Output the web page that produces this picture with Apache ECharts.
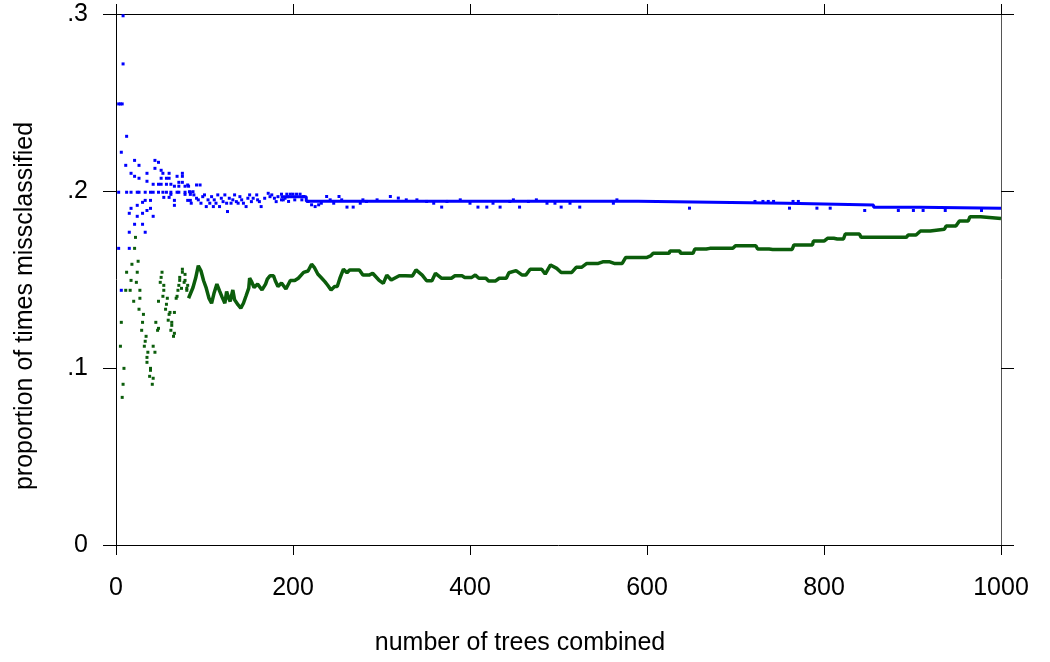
<!DOCTYPE html>
<html>
<head>
<meta charset="utf-8">
<script src="https://cdn.jsdelivr.net/npm/echarts/dist/echarts.min.js"></script>
<style>
html, body { margin: 0; padding: 0; background: #fff; }
#chart { width: 1050px; height: 662px; }
</style>
</head>
<body>
<div id="chart"></div>
<script>
// axis ticks
var xTicks = [0, 200, 400, 600, 800, 1000];
var yTicks = [0, 0.1, 0.2, 0.3];

// blue series, first trees: [trees, proportion]
var blueEarly = [
  [8,0.299],[8,0.2718],[3,0.2492],[5,0.2492],[7,0.2492],[12,0.2309],[6,0.2219],[11,0.2145],
  [21,0.2173],[26,0.2145],[44,0.2173],[48,0.2162],[44,0.2128],[51,0.2117],[17,0.21],[21,0.2083],
  [26,0.2072],[35,0.21],[53,0.21],[60,0.21],[57,0.2072],[60,0.2072],[51,0.2072],[35,0.2055],
  [42,0.2038],[48,0.2038],[51,0.2038],[57,0.2038],[62,0.2038],[69,0.2083],[75,0.21],[75,0.2083],
  [71,0.2049],[75,0.2049],[66,0.2027],[71,0.2027],[78,0.2027],[82,0.2027],
  [3,0.1993],[12,0.1993],[17,0.1993],[24,0.1993],[26,0.1993],[33,0.1993],[39,0.1993],[42,0.1993],
  [48,0.1993],[53,0.1993],[57,0.1993],[62,0.1993],[69,0.1993],[71,0.1993],[78,0.1993],[84,0.1993],
  [62,0.1981],[78,0.1981],[84,0.1981],
  [54,0.1964],[60,0.1964],[66,0.1947],[33,0.1947],[39,0.1947],[30,0.1936],[81,0.1947],[84,0.1947],
  [66,0.1919],[17,0.1902],[24,0.1919],[39,0.1902],[35,0.189],[15,0.1874],[30,0.1874],[24,0.1857],
  [42,0.1857],[21,0.1812],[30,0.1812],[15,0.1767],[33,0.1767],[3,0.1676],[15,0.1676],[6,0.1439]
];

// blue series, noisy middle stretch
var blueMid = [
  [81,0.2034],[91,0.2034],[95,0.2034],[83,0.1996],[87,0.1996],[85,0.1931],[88,0.1978],[91,0.1959],
  [93,0.195],[96,0.1931],[98,0.1968],[100,0.1978],[102,0.1912],[104,0.195],[106,0.1931],[108,0.1968],
  [110,0.1912],[111,0.195],[113,0.1931],[115,0.1978],[117,0.1912],[119,0.1959],[121,0.194],[123,0.1978],
  [125,0.1931],[126,0.1884],[128,0.1959],[130,0.1931],[132,0.195],[134,0.1978],[136,0.194],[138,0.1931],
  [140,0.1968],[142,0.195],[144,0.1931],[147,0.1912],[149,0.1959],[151,0.1978],[153,0.194],[155,0.1959],
  [159,0.1978],[160,0.195],[162,0.194],[164,0.1912],[168,0.1959],[172,0.1987],[174,0.1968],[176,0.1978],
  [179,0.1959],[181,0.194],[183,0.1968],[187,0.195],[191,0.1959],[194,0.1968]
];

// blue series, settled level
var blueTrend = [
  [186,0.1968],[215,0.1968],[215,0.1942],[590,0.1942],[590,0.1931],[758,0.1931],
  [758,0.1921],[856,0.1921],[856,0.1908],[908,0.1908],[908,0.1903],[1000,0.1903]
];

// blue series, dots off the settled level
var blueJitter = [
  [187,0.1982],[193,0.1982],[197,0.1982],[200,0.1982],[204,0.1982],[208,0.1982],[212,0.1969],
  [189,0.195],[195,0.1941],[202,0.195],[210,0.195],
  [217,0.1941],[221,0.1922],[225,0.1912],[229,0.1922],[232,0.1931],
  [238,0.1969],[242,0.195],[246,0.1931],[252,0.1969],[255,0.1950],[261,0.1909],[268,0.1909],
  [276,0.1931],[279,0.195],[283,0.1941],[295,0.195],[310,0.1969],[319,0.1960],[328,0.195],
  [340,0.195],[351,0.1941],[359,0.1931],[368,0.1909],[374,0.1941],[389,0.195],[400,0.1931],
  [409,0.1909],[419,0.1909],[426,0.1931],[434,0.1909],[445,0.1941],[449,0.195],[456,0.1909],
  [466,0.1941],[475,0.195],[487,0.1931],[496,0.1931],[503,0.1909],[513,0.1931],[524,0.1909],
  [562,0.1931],[566,0.195],
  [648,0.1903],[722,0.1941],[731,0.1941],[737,0.1941],[743,0.1941],[761,0.1903],[765,0.1941],
  [771,0.1941],[792,0.1903],[807,0.1903],[846,0.189],[884,0.189],[901,0.189],[912,0.189],
  [937,0.189],[978,0.189]
];

// green series, first trees
var greenEarly = [
  [7,0.0834],[8,0.0908],[9,0.0998],[5,0.1123],[6,0.1258],[11,0.1439],[12,0.1541],
  [16,0.1439],[17,0.1495],[18,0.1586],[20,0.1377],[21,0.1676],[22,0.1738],
  [23,0.1484],[24,0.1541],[25,0.1603],[26,0.1332],[27,0.1394],[27,0.1439],
  [29,0.1213],[30,0.1258],[31,0.1303],[32,0.1123],[33,0.1151],[34,0.1179],
  [35,0.1032],[35,0.106],[36,0.1089],[38,0.0953],[39,0.0987],[39,0.0998],
  [41,0.0908],[42,0.0942],[42,0.1123],[44,0.1089],[45,0.1258],
  [47,0.1213],[48,0.1224],[48,0.1377],[50,0.1484],[51,0.1512],[52,0.1541],
  [53,0.1405],[54,0.1439],[54,0.1467],[56,0.1332],[57,0.136],[58,0.1394],
  [59,0.127],[60,0.1303],[61,0.1314],[62,0.1213],[63,0.1241],[63,0.1258],
  [65,0.1179],[66,0.1196],[66,0.1314],[68,0.1394],[69,0.1405],[70,0.1439],
  [71,0.1467],[72,0.1495],[72,0.1512],[74,0.145],[75,0.1541],[75,0.1558],
  [77,0.1484],[78,0.1495],[78,0.1529],[80,0.1439],[80,0.145],[81,0.1467]
];

// green series, rest of the run
var greenTrend = [
  [82,0.1394],[84,0.1394],[87,0.1455],[90,0.1508],[93,0.1578],[96,0.1549],[99,0.1493],[102,0.1451],
  [105,0.1395],[108,0.1366],[111,0.1427],[114,0.1474],[117,0.1436],[120,0.1399],[123,0.1366],
  [125,0.1432],[127,0.1399],[129,0.1376],[132,0.1441],[134,0.1385],[138,0.1356],[141,0.1338],
  [144,0.1366],[147,0.1408],[150,0.1451],[151,0.1508],[153,0.149],[156,0.1455],[160,0.1474],
  [162,0.1474],[165,0.1441],[169,0.1474],[171,0.1502],[174,0.1521],[178,0.1521],[180,0.1493],
  [183,0.146],[187,0.148],[189,0.1474],[192,0.1446],[197,0.1494],[202,0.1494],[206,0.1507],
  [212,0.154],[217,0.1548],[221,0.1586],[224,0.1569],[228,0.1531],[232,0.151],[236,0.1488],
  [239,0.1469],[243,0.1441],[247,0.146],[250,0.146],[253,0.1507],[257,0.1558],[261,0.1538],
  [264,0.1554],[275,0.1554],[279,0.1525],[286,0.1525],[290,0.1535],[297,0.1497],[302,0.1478],
  [306,0.1525],[311,0.1497],[320,0.1521],[327,0.1521],[335,0.152],[339,0.1554],[346,0.1525],
  [351,0.1493],[357,0.1493],[361,0.1535],[368,0.1507],[379,0.1507],[383,0.1521],[391,0.1521],
  [394,0.1512],[402,0.1512],[406,0.1525],[410,0.1507],[418,0.1507],[421,0.1492],[429,0.1492],
  [433,0.1507],[441,0.1507],[444,0.1538],[452,0.155],[459,0.1525],[463,0.1525],[468,0.1558],
  [481,0.1558],[485,0.1531],[491,0.1582],[498,0.1563],[503,0.154],[515,0.154],[520,0.1569],
  [526,0.1569],[532,0.1591],[545,0.1591],[550,0.16],[558,0.16],[563,0.1591],[572,0.1591],
  [576,0.1625],[600,0.1625],[604,0.1633],[607,0.1648],[625,0.1648],[626,0.1661],[637,0.1661],
  [638,0.1648],[652,0.1648],[654,0.1672],[667,0.1672],[671,0.1676],[697,0.1676],[700,0.1691],
  [723,0.1691],[725,0.1672],[738,0.1672],[742,0.167],[764,0.167],[766,0.1695],[787,0.1695],
  [788,0.1717],[800,0.1717],[804,0.1733],[811,0.1733],[815,0.1729],[822,0.1729],[824,0.1757],
  [840,0.1757],[842,0.1738],[893,0.1738],[895,0.1751],[904,0.1751],[909,0.1774],[920,0.1774],
  [921,0.1784],[936,0.1784],[938,0.1802],[949,0.1802],[953,0.1831],[963,0.1831],[965,0.1855],
  [977,0.1855],[979,0.1845],[1000,0.1845]
];

var BLUE = '#0000ff';
var GREEN = '#0b5d0b';
var FONT = 'Liberation Sans, Arial, sans-serif';

var chart = echarts.init(document.getElementById('chart'));

function xAxisDef(pos, showLabel) {
  return {
    type: 'value', position: pos,
    min: xTicks[0], max: xTicks[xTicks.length - 1], interval: xTicks[1] - xTicks[0],
    axisLine: { show: true, onZero: false, lineStyle: { color: '#000', width: 1 } },
    axisTick: { show: true, length: 10, lineStyle: { color: '#000' } },
    axisLabel: {
      show: showLabel, margin: 31, color: '#000', fontSize: 25, fontFamily: FONT,
      formatter: function (v) { return String(v); }
    },
    splitLine: { show: false }
  };
}
function yAxisDef(pos, showLabel) {
  return {
    type: 'value', position: pos,
    min: yTicks[0], max: yTicks[yTicks.length - 1], interval: yTicks[1] - yTicks[0],
    axisLine: { show: true, onZero: false, lineStyle: { color: pos === 'right' ? '#555' : '#000', width: 1 } },
    axisTick: { show: true, length: 13, lineStyle: { color: '#000' } },
    axisLabel: {
      show: showLabel, margin: 28, color: '#000', fontSize: 25, fontFamily: FONT,
      formatter: function (v) { return v === 0 ? '0' : '.' + Math.round(v * 10); }
    },
    splitLine: { show: false }
  };
}

var option = {
  animation: false,
  backgroundColor: '#fff',
  grid: { left: 116, right: 49, top: 14, bottom: 117, containLabel: false },
  xAxis: [xAxisDef('bottom', true), xAxisDef('top', false)],
  yAxis: [yAxisDef('left', true), yAxisDef('right', false)],
  graphic: [
    {
      type: 'text', x: 520, y: 643,
      style: { text: 'number of trees combined', font: '25px Liberation Sans, Arial, sans-serif',
               fill: '#000', align: 'center', verticalAlign: 'middle' }
    },
    {
      type: 'text', x: 25, y: 306, rotation: Math.PI / 2,
      style: { text: 'proportion of times missclassified', font: '25px Liberation Sans, Arial, sans-serif',
               fill: '#000', align: 'center', verticalAlign: 'middle' }
    }
  ],
  series: [
    {
      name: 'blue trend', type: 'line', data: blueTrend, showSymbol: false,
      lineStyle: { color: BLUE, width: 3, cap: 'butt', join: 'bevel' }, z: 2
    },
    {
      name: 'blue', type: 'scatter', data: blueEarly.concat(blueMid, blueJitter),
      symbol: 'rect', symbolSize: 3, itemStyle: { color: BLUE, opacity: 1 }, z: 3
    },
    {
      name: 'green trend', type: 'line', data: greenTrend, showSymbol: false,
      lineStyle: { color: GREEN, width: 3.5, cap: 'butt', join: 'bevel' }, z: 2
    },
    {
      name: 'green', type: 'scatter', data: greenEarly,
      symbol: 'rect', symbolSize: 3, itemStyle: { color: GREEN, opacity: 1 }, z: 3
    }
  ]
};

chart.setOption(option);

window.onresize = function () {
  chart.resize();
};
</script>
</body>
</html>
